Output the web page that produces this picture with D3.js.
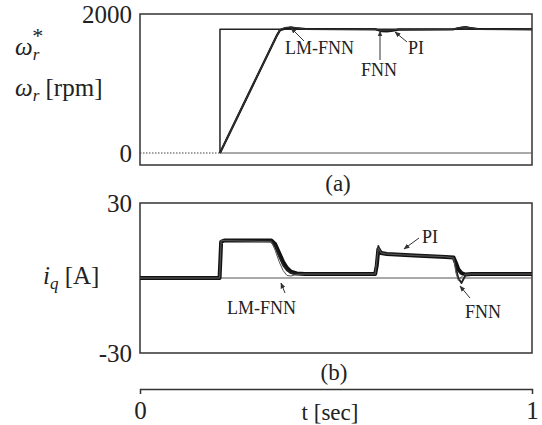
<!DOCTYPE html>
<html>
<head>
<meta charset="utf-8">
<script src="https://cdn.jsdelivr.net/npm/d3@7"></script>
<style>
	body { margin: 0; background: #ffffff; }
	text { font-family: "Liberation Serif", "Times New Roman", Times, serif; fill: #222; }
</style>
</head>
<body>
<div id="vis_container"></div>
<script>
// speed response (rpm) vs time (sec)
var speedTime = [0.204, 0.35, 0.357, 0.37, 0.385, 0.40, 0.42, 0.60, 0.615, 0.63, 0.645, 0.66, 0.80, 0.815, 0.83, 0.845, 0.86, 1.0];
var speedLMFNN = [0, 1700, 1775, 1805, 1815, 1800, 1782, 1780, 1768, 1765, 1772, 1780, 1780, 1805, 1812, 1800, 1782, 1780];
var speedFNN = [0, 1700, 1770, 1795, 1805, 1795, 1782, 1780, 1760, 1755, 1765, 1778, 1780, 1800, 1808, 1798, 1782, 1780];
var speedPI = [0, 1700, 1765, 1790, 1800, 1792, 1785, 1780, 1755, 1750, 1762, 1776, 1780, 1798, 1810, 1795, 1785, 1780];
var refTime = [0.204, 0.204, 1.0];
var refSpeed = [0, 1780, 1780];

// q-axis current (A) vs time (sec)
var iqTime = [0, 0.203, 0.207, 0.215, 0.335, 0.345, 0.355, 0.365, 0.375, 0.385, 0.40, 0.42, 0.60, 0.604, 0.608, 0.615, 0.63, 0.70, 0.78, 0.80, 0.806, 0.812, 0.82, 0.83, 0.845, 0.90, 1.0];
var iqPI = [0, 0, 14.5, 15, 15, 13.5, 10, 6.5, 4, 2.5, 1.8, 1.6, 1.6, 5, 11.5, 10, 9.6, 9, 8.4, 8.2, 6, 3.5, 2, 1.4, 1.6, 1.6, 1.6];
var iqFNN = [0, 0, 14.8, 15, 14.8, 12.5, 8.5, 5, 3, 2, 1.6, 1.6, 1.6, 6, 12.8, 10.2, 9.7, 9.1, 8.5, 8.1, 4, 0, -2, 1, 1.6, 1.6, 1.6];
var iqLMFNN = [0, 0, 15, 15, 14.5, 11, 6.5, 3, 1, 0.8, 1.4, 1.6, 1.6, 7, 12, 10, 9.6, 9, 8.5, 8, 2, -1, 0.5, 1.5, 1.6, 1.6, 1.6];

var speedTicks = [0, 2000];
var iqTicks = [-30, 30];
var timeTicks = [0, 1];

var chart = {};
chart.width = 542;
chart.height = 425;
chart.font = "Liberation Serif, Times New Roman, serif";

chart.svg = d3.select("#vis_container").append("svg")
	.attr("width", chart.width)
	.attr("height", chart.height)
	.style("background-color", "#FFFFFF");

var defs = chart.svg.append("defs");
defs.append("marker")
	.attr("id", "arrow")
	.attr("viewBox", "0 0 10 10")
	.attr("refX", 9)
	.attr("refY", 5)
	.attr("markerWidth", 6)
	.attr("markerHeight", 6)
	.attr("orient", "auto")
	.append("path")
	.attr("d", "M0,1L10,5L0,9Z")
	.attr("fill", "#333");

chart.x = d3.scaleLinear().domain([0, 1]).range([140, 532]);
chart.yW = d3.scaleLinear().domain([0, 2000]).range([153, 14]);
chart.yI = d3.scaleLinear().domain([-30, 30]).range([353, 203]);

function box(y0, y1) {
	chart.svg.append("rect")
		.attr("x", 140)
		.attr("y", y0)
		.attr("width", 392)
		.attr("height", y1 - y0)
		.attr("fill", "none")
		.attr("stroke", "#333")
		.attr("stroke-width", 1.5);
}

function series(t, v, yScale, width, color) {
	var pts = t.map(function(d, i) { return [d, v[i]]; });
	chart.svg.append("path")
		.datum(pts)
		.attr("d", d3.line()
			.x(function(d) { return chart.x(d[0]); })
			.y(function(d) { return yScale(d[1]); }))
		.attr("fill", "none")
		.attr("stroke", color)
		.attr("stroke-width", width)
		.attr("stroke-linejoin", "round");
}

function label(x, y, txt, size, anchor) {
	return chart.svg.append("text")
		.attr("x", x)
		.attr("y", y)
		.attr("text-anchor", anchor || "start")
		.style("font-size", size + "px")
		.text(txt);
}

function arrow(x1, y1, x2, y2) {
	chart.svg.append("line")
		.attr("x1", x1).attr("y1", y1)
		.attr("x2", x2).attr("y2", y2)
		.attr("stroke", "#333")
		.attr("stroke-width", 1)
		.attr("marker-end", "url(#arrow)");
}

function styleTicks(g) {
	g.selectAll("text")
		.style("font-size", "25px")
		.style("font-family", chart.font)
		.attr("fill", "#222");
}

// ---- panel (a): speed ----
box(14, 165);
chart.svg.append("line")
	.attr("x1", chart.x(0)).attr("x2", chart.x(0.204))
	.attr("y1", chart.yW(0)).attr("y2", chart.yW(0))
	.attr("stroke", "#444").attr("stroke-width", 1)
	.attr("stroke-dasharray", "1.5,1.5");
chart.svg.append("line")
	.attr("x1", chart.x(0.204)).attr("x2", chart.x(1))
	.attr("y1", chart.yW(0)).attr("y2", chart.yW(0))
	.attr("stroke", "#555").attr("stroke-width", 1);

series(refTime, refSpeed, chart.yW, 1.5, "#222");
series(speedTime, speedPI, chart.yW, 2.2, "#222");
series(speedTime, speedFNN, chart.yW, 1.6, "#111");
series(speedTime, speedLMFNN, chart.yW, 1.2, "#333");

chart.svg.append("g")
	.attr("transform", "translate(137,0)")
	.call(d3.axisLeft(chart.yW).tickValues(speedTicks).tickSize(0).tickPadding(5).tickFormat(d3.format("d")))
	.call(function(g) {
		g.select(".domain").remove();
		styleTicks(g);
	});

// y label: omega_r* and omega_r [rpm]
var wStar = label(15, 55, "", 25);
wStar.append("tspan").style("font-style", "italic").text("ω");
wStar.append("tspan").style("font-style", "italic").style("font-size", "17px").attr("dy", 5).text("r");
wStar.append("tspan").style("font-size", "22px").attr("dx", -7).attr("dy", -17).text("*");
var wR = label(15, 96, "", 25);
wR.append("tspan").style("font-style", "italic").text("ω");
wR.append("tspan").style("font-style", "italic").style("font-size", "17px").attr("dy", 5).text("r");
wR.append("tspan").attr("dy", -5).text(" [rpm]");

label(285, 54, "LM-FNN", 18);
arrow(304, 41, 291, 28);
label(379, 76, "FNN", 18, "middle");
arrow(380, 60, 380, 31);
label(408, 54, "PI", 18);
arrow(407, 42, 395, 32);

label(338, 191, "(a)", 23, "middle");

// ---- panel (b): current ----
box(203, 353);
chart.svg.append("line")
	.attr("x1", chart.x(0)).attr("x2", chart.x(1))
	.attr("y1", chart.yI(0)).attr("y2", chart.yI(0))
	.attr("stroke", "#555").attr("stroke-width", 1);

series(iqTime, iqPI, chart.yI, 4, "#111");
series(iqTime, iqFNN, chart.yI, 1.8, "#222");
series(iqTime, iqLMFNN, chart.yI, 1.0, "#555");

chart.svg.append("g")
	.attr("transform", "translate(137,0)")
	.call(d3.axisLeft(chart.yI).tickValues(iqTicks).tickSize(0).tickPadding(5).tickFormat(function(d) { return String(d); }))
	.call(function(g) {
		g.select(".domain").remove();
		styleTicks(g);
	});

var iq = label(43, 284, "", 25);
iq.append("tspan").style("font-style", "italic").text("i");
iq.append("tspan").style("font-style", "italic").style("font-size", "17px").attr("dy", 5).text("q");
iq.append("tspan").attr("dy", -5).text(" [A]");

label(227, 314, "LM-FNN", 18);
arrow(285, 293, 281, 283);
label(422, 243, "PI", 18);
arrow(419, 238, 404, 249);
label(465, 318, "FNN", 18);
arrow(470, 298, 460, 286);

label(334, 380, "(b)", 23, "middle");

// ---- time axis ----
chart.svg.append("g")
	.attr("transform", "translate(0,389)")
	.call(d3.axisBottom(chart.x).tickValues(timeTicks).tickSize(5).tickSizeOuter(5).tickPadding(7).tickFormat(d3.format("d")))
	.call(function(g) {
		g.select(".domain").attr("stroke", "#333").attr("stroke-width", 1.5);
		g.selectAll(".tick line").remove();
		styleTicks(g);
	});
label(330, 420, "t [sec]", 23, "middle");
</script>
</body>
</html>
